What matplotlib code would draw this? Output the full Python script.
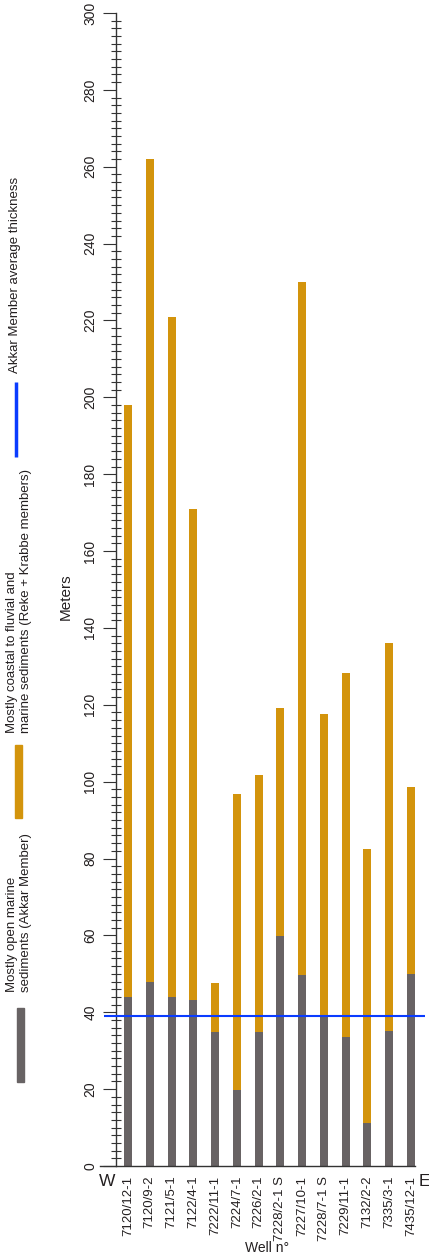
import numpy as np
import matplotlib
matplotlib.use("Agg")
from matplotlib import pyplot as plt
from matplotlib.patches import Rectangle
from matplotlib.ticker import MultipleLocator

plt.rcParams['font.family'] = ['Liberation Sans', 'DejaVu Sans']

wells = ['7120/12-1', '7120/9-2', '7121/5-1', '7122/4-1', '7222/11-1', '7224/7-1',
         '7226/2-1', '7228/2-1 S', '7227/10-1', '7228/7-1 S', '7229/11-1',
         '7132/2-2', '7335/3-1', '7435/12-1']
akkar = [44, 48, 44, 43.2, 34.8, 19.8, 34.8, 59.9, 49.7, 38.9, 33.6, 11.3, 35.1, 50.0]
total = [198, 262, 221, 171, 47.7, 96.7, 101.8, 119.1, 230.1, 117.7, 128.2, 82.5, 136.2, 98.6]
akkar_avg = 39.0

GRAY = '#686364'
ORANGE = '#d3940c'
BLUE = '#0a3cff'
INK = '#231f20'

W, H = 429, 1257
fig = plt.figure(figsize=(W / 100, H / 100), dpi=100)

# main axes, pixel layout
x0, x1 = 100, 425
y0, y1 = 1166, 13
ax = fig.add_axes([x0 / W, (H - y0) / H, (x1 - x0) / W, (y0 - y1) / H])
step = 21.77
xlim = ((x0 - 128) / step, (x1 - 128) / step)

x = np.arange(len(wells))
akkar = np.asarray(akkar)
upper = np.asarray(total) - akkar
ax.bar(x, akkar, width=0.37, color=GRAY, zorder=2)
ax.bar(x, upper, bottom=akkar, width=0.37, color=ORANGE, zorder=2)
ax.hlines(akkar_avg, (104 - 128) / step, xlim[1], color=BLUE, lw=1.5, zorder=3)

ax.set_xlim(*xlim)
ax.set_ylim(0, 300)
for s in ['top', 'right']:
    ax.spines[s].set_visible(False)
ax.spines['left'].set_position(('data', (116 - 128) / step))
ax.spines['bottom'].set_bounds(xlim[0], (415 - 128) / step)
for s in ['left', 'bottom']:
    ax.spines[s].set_color('#333333')
    ax.spines[s].set_linewidth(1.0)

ax.yaxis.set_major_locator(MultipleLocator(20))
ax.yaxis.set_minor_locator(MultipleLocator(2))
ax.tick_params(axis='y', which='major', direction='out', length=9.5, width=0.8,
               color='#333333', pad=4, labelsize=10, labelcolor=INK)
ax.tick_params(axis='y', which='minor', direction='inout', length=7, width=0.8,
               color='#333333')
for lab in ax.get_yticklabels():
    lab.set_rotation(90)
    lab.set_va('center')

ax.set_xticks(x)
ax.set_xticklabels(wells, rotation=90, fontsize=9.5, color=INK)
ax.tick_params(axis='x', length=0, pad=7)

fig.text(66 / W, 1 - 597 / H, 'Meters', rotation=90, ha='center', va='center',
         fontsize=11, color=INK)
fig.text(267 / W, 1 - 1248 / H, 'Well n°', ha='center', va='center',
         fontsize=10, color=INK)
fig.text(107.5 / W, 1 - 1181 / H, 'W', ha='center', va='center', fontsize=12.5, color=INK)
fig.text(424 / W, 1 - 1181 / H, 'E', ha='center', va='center', fontsize=12.5, color=INK)

# legend drawn by hand, rotated like the reference
lg = fig.add_axes([0, 0, 1, 1], zorder=-1)
lg.set_xlim(0, W)
lg.set_ylim(H, 0)
lg.axis('off')
lg.add_patch(Rectangle((17, 1008), 7, 74, color=GRAY))
lg.add_patch(Rectangle((15, 745), 7, 73, color=ORANGE))
lg.plot([16, 16], [382, 457], color=BLUE, lw=2.5, solid_capstyle='butt')
lg.text(19, 992, 'Mostly open marine\nsediments (Akkar Member)', rotation=90,
        ha='center', va='bottom', multialignment='left', fontsize=9.5, color=INK,
        linespacing=1.3)
lg.text(19, 733, 'Mostly coastal to fluvial and\nmarine sediments (Reke + Krabbe members)',
        rotation=90, ha='center', va='bottom', multialignment='left', fontsize=9.5,
        color=INK, linespacing=1.3)
lg.text(15, 373, 'Akkar Member average thickness', rotation=90, ha='center',
        va='bottom', fontsize=9.5, color=INK)

fig.savefig('out.png', dpi=100)
